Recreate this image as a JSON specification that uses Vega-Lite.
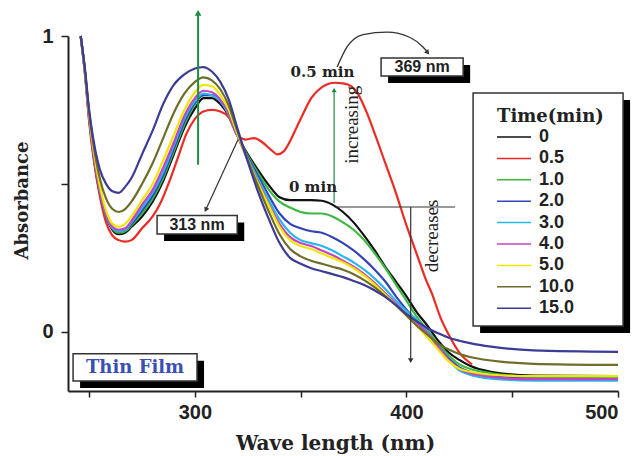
{
"$schema":"https://vega.github.io/schema/vega-lite/v6.json",
"width":550,"height":355,
"autosize":{"type":"none"},
"padding":{"left":68,"top":36,"right":22,"bottom":65},
"background":"white",
"config":{"view":{"stroke":null},"axis":{"grid":false}},
"datasets":{
"spectra":[
{"t":"0","w":246,"a":1},{"t":"0","w":248,"a":0.88},{"t":"0","w":250,"a":0.72},{"t":"0","w":252,"a":0.6},{"t":"0","w":255,"a":0.47},{"t":"0","w":258,"a":0.39},{"t":"0","w":261,"a":0.345},{"t":"0","w":264,"a":0.33},{"t":"0","w":267,"a":0.335},{"t":"0","w":270,"a":0.355},{"t":"0","w":275,"a":0.39},{"t":"0","w":280,"a":0.44},{"t":"0","w":285,"a":0.51},{"t":"0","w":290,"a":0.6},{"t":"0","w":295,"a":0.69},{"t":"0","w":300,"a":0.755},{"t":"0","w":304,"a":0.79},{"t":"0","w":308,"a":0.79},{"t":"0","w":312,"a":0.77},{"t":"0","w":316,"a":0.73},{"t":"0","w":320,"a":0.665},{"t":"0","w":325,"a":0.6},{"t":"0","w":330,"a":0.545},{"t":"0","w":335,"a":0.495},{"t":"0","w":340,"a":0.455},{"t":"0","w":345,"a":0.445},{"t":"0","w":350,"a":0.445},{"t":"0","w":355,"a":0.445},{"t":"0","w":360,"a":0.443},{"t":"0","w":365,"a":0.43},{"t":"0","w":370,"a":0.405},{"t":"0","w":375,"a":0.37},{"t":"0","w":380,"a":0.325},{"t":"0","w":385,"a":0.275},{"t":"0","w":390,"a":0.22},{"t":"0","w":395,"a":0.17},{"t":"0","w":400,"a":0.12},{"t":"0","w":405,"a":0.065},{"t":"0","w":410,"a":0.02},{"t":"0","w":415,"a":-0.03},{"t":"0","w":420,"a":-0.07},{"t":"0","w":425,"a":-0.095},{"t":"0","w":430,"a":-0.115},{"t":"0","w":440,"a":-0.135},{"t":"0","w":460,"a":-0.148},{"t":"0","w":500,"a":-0.15},
{"t":"0.5","w":246,"a":1},{"t":"0.5","w":248,"a":0.87},{"t":"0.5","w":250,"a":0.71},{"t":"0.5","w":252,"a":0.59},{"t":"0.5","w":255,"a":0.46},{"t":"0.5","w":258,"a":0.37},{"t":"0.5","w":261,"a":0.325},{"t":"0.5","w":264,"a":0.31},{"t":"0.5","w":267,"a":0.305},{"t":"0.5","w":270,"a":0.31},{"t":"0.5","w":275,"a":0.35},{"t":"0.5","w":280,"a":0.39},{"t":"0.5","w":284,"a":0.44},{"t":"0.5","w":288,"a":0.51},{"t":"0.5","w":292,"a":0.59},{"t":"0.5","w":296,"a":0.67},{"t":"0.5","w":300,"a":0.72},{"t":"0.5","w":304,"a":0.745},{"t":"0.5","w":308,"a":0.75},{"t":"0.5","w":312,"a":0.745},{"t":"0.5","w":316,"a":0.725},{"t":"0.5","w":320,"a":0.665},{"t":"0.5","w":324,"a":0.65},{"t":"0.5","w":328,"a":0.655},{"t":"0.5","w":332,"a":0.64},{"t":"0.5","w":336,"a":0.615},{"t":"0.5","w":339,"a":0.6},{"t":"0.5","w":342,"a":0.61},{"t":"0.5","w":345,"a":0.645},{"t":"0.5","w":348,"a":0.69},{"t":"0.5","w":351,"a":0.735},{"t":"0.5","w":355,"a":0.79},{"t":"0.5","w":358,"a":0.815},{"t":"0.5","w":362,"a":0.835},{"t":"0.5","w":366,"a":0.842},{"t":"0.5","w":370,"a":0.84},{"t":"0.5","w":374,"a":0.83},{"t":"0.5","w":377,"a":0.805},{"t":"0.5","w":381,"a":0.745},{"t":"0.5","w":385,"a":0.67},{"t":"0.5","w":390,"a":0.57},{"t":"0.5","w":395,"a":0.47},{"t":"0.5","w":400,"a":0.36},{"t":"0.5","w":403,"a":0.3},{"t":"0.5","w":406,"a":0.24},{"t":"0.5","w":409,"a":0.18},{"t":"0.5","w":412,"a":0.13},{"t":"0.5","w":416,"a":0.05},{"t":"0.5","w":420,"a":-0.01},{"t":"0.5","w":425,"a":-0.07},{"t":"0.5","w":431,"a":-0.11},
{"t":"1.0","w":246,"a":1},{"t":"1.0","w":248,"a":0.88},{"t":"1.0","w":250,"a":0.73},{"t":"1.0","w":252,"a":0.61},{"t":"1.0","w":255,"a":0.48},{"t":"1.0","w":258,"a":0.395},{"t":"1.0","w":261,"a":0.35},{"t":"1.0","w":264,"a":0.335},{"t":"1.0","w":267,"a":0.34},{"t":"1.0","w":270,"a":0.36},{"t":"1.0","w":275,"a":0.4},{"t":"1.0","w":280,"a":0.45},{"t":"1.0","w":285,"a":0.52},{"t":"1.0","w":290,"a":0.61},{"t":"1.0","w":295,"a":0.7},{"t":"1.0","w":300,"a":0.77},{"t":"1.0","w":304,"a":0.8},{"t":"1.0","w":308,"a":0.8},{"t":"1.0","w":312,"a":0.78},{"t":"1.0","w":316,"a":0.735},{"t":"1.0","w":320,"a":0.665},{"t":"1.0","w":325,"a":0.595},{"t":"1.0","w":330,"a":0.535},{"t":"1.0","w":335,"a":0.48},{"t":"1.0","w":340,"a":0.44},{"t":"1.0","w":345,"a":0.42},{"t":"1.0","w":350,"a":0.405},{"t":"1.0","w":355,"a":0.4},{"t":"1.0","w":360,"a":0.4},{"t":"1.0","w":365,"a":0.39},{"t":"1.0","w":370,"a":0.37},{"t":"1.0","w":375,"a":0.345},{"t":"1.0","w":380,"a":0.31},{"t":"1.0","w":385,"a":0.265},{"t":"1.0","w":390,"a":0.215},{"t":"1.0","w":395,"a":0.16},{"t":"1.0","w":400,"a":0.105},{"t":"1.0","w":405,"a":0.05},{"t":"1.0","w":410,"a":0.005},{"t":"1.0","w":415,"a":-0.04},{"t":"1.0","w":420,"a":-0.08},{"t":"1.0","w":425,"a":-0.11},{"t":"1.0","w":430,"a":-0.125},{"t":"1.0","w":440,"a":-0.14},{"t":"1.0","w":460,"a":-0.152},{"t":"1.0","w":500,"a":-0.155},
{"t":"2.0","w":246,"a":1},{"t":"2.0","w":248,"a":0.88},{"t":"2.0","w":250,"a":0.73},{"t":"2.0","w":252,"a":0.61},{"t":"2.0","w":255,"a":0.48},{"t":"2.0","w":258,"a":0.395},{"t":"2.0","w":261,"a":0.35},{"t":"2.0","w":264,"a":0.34},{"t":"2.0","w":267,"a":0.345},{"t":"2.0","w":270,"a":0.365},{"t":"2.0","w":275,"a":0.41},{"t":"2.0","w":280,"a":0.46},{"t":"2.0","w":285,"a":0.53},{"t":"2.0","w":290,"a":0.62},{"t":"2.0","w":295,"a":0.71},{"t":"2.0","w":300,"a":0.775},{"t":"2.0","w":304,"a":0.8},{"t":"2.0","w":308,"a":0.8},{"t":"2.0","w":312,"a":0.78},{"t":"2.0","w":316,"a":0.735},{"t":"2.0","w":320,"a":0.665},{"t":"2.0","w":325,"a":0.59},{"t":"2.0","w":330,"a":0.525},{"t":"2.0","w":335,"a":0.46},{"t":"2.0","w":340,"a":0.4},{"t":"2.0","w":345,"a":0.365},{"t":"2.0","w":350,"a":0.35},{"t":"2.0","w":355,"a":0.34},{"t":"2.0","w":360,"a":0.335},{"t":"2.0","w":365,"a":0.32},{"t":"2.0","w":370,"a":0.3},{"t":"2.0","w":375,"a":0.275},{"t":"2.0","w":380,"a":0.245},{"t":"2.0","w":385,"a":0.21},{"t":"2.0","w":390,"a":0.17},{"t":"2.0","w":395,"a":0.12},{"t":"2.0","w":400,"a":0.075},{"t":"2.0","w":405,"a":0.035},{"t":"2.0","w":410,"a":-0.005},{"t":"2.0","w":415,"a":-0.05},{"t":"2.0","w":420,"a":-0.09},{"t":"2.0","w":425,"a":-0.12},{"t":"2.0","w":430,"a":-0.135},{"t":"2.0","w":440,"a":-0.15},{"t":"2.0","w":460,"a":-0.158},{"t":"2.0","w":500,"a":-0.16},
{"t":"3.0","w":246,"a":1},{"t":"3.0","w":248,"a":0.88},{"t":"3.0","w":250,"a":0.73},{"t":"3.0","w":252,"a":0.61},{"t":"3.0","w":255,"a":0.48},{"t":"3.0","w":258,"a":0.395},{"t":"3.0","w":261,"a":0.35},{"t":"3.0","w":264,"a":0.34},{"t":"3.0","w":267,"a":0.345},{"t":"3.0","w":270,"a":0.37},{"t":"3.0","w":275,"a":0.42},{"t":"3.0","w":280,"a":0.47},{"t":"3.0","w":285,"a":0.54},{"t":"3.0","w":290,"a":0.63},{"t":"3.0","w":295,"a":0.72},{"t":"3.0","w":300,"a":0.78},{"t":"3.0","w":304,"a":0.805},{"t":"3.0","w":308,"a":0.8},{"t":"3.0","w":312,"a":0.78},{"t":"3.0","w":316,"a":0.735},{"t":"3.0","w":320,"a":0.665},{"t":"3.0","w":325,"a":0.585},{"t":"3.0","w":330,"a":0.515},{"t":"3.0","w":335,"a":0.445},{"t":"3.0","w":340,"a":0.38},{"t":"3.0","w":345,"a":0.335},{"t":"3.0","w":350,"a":0.31},{"t":"3.0","w":355,"a":0.3},{"t":"3.0","w":360,"a":0.29},{"t":"3.0","w":365,"a":0.275},{"t":"3.0","w":370,"a":0.255},{"t":"3.0","w":375,"a":0.235},{"t":"3.0","w":380,"a":0.21},{"t":"3.0","w":385,"a":0.18},{"t":"3.0","w":390,"a":0.145},{"t":"3.0","w":395,"a":0.105},{"t":"3.0","w":400,"a":0.07},{"t":"3.0","w":405,"a":0.04},{"t":"3.0","w":410,"a":0},{"t":"3.0","w":415,"a":-0.05},{"t":"3.0","w":420,"a":-0.095},{"t":"3.0","w":425,"a":-0.13},{"t":"3.0","w":430,"a":-0.145},{"t":"3.0","w":440,"a":-0.158},{"t":"3.0","w":460,"a":-0.165},{"t":"3.0","w":500,"a":-0.165},
{"t":"4.0","w":246,"a":1},{"t":"4.0","w":248,"a":0.88},{"t":"4.0","w":250,"a":0.73},{"t":"4.0","w":252,"a":0.61},{"t":"4.0","w":255,"a":0.485},{"t":"4.0","w":258,"a":0.4},{"t":"4.0","w":261,"a":0.355},{"t":"4.0","w":264,"a":0.345},{"t":"4.0","w":267,"a":0.35},{"t":"4.0","w":270,"a":0.375},{"t":"4.0","w":275,"a":0.43},{"t":"4.0","w":280,"a":0.48},{"t":"4.0","w":285,"a":0.555},{"t":"4.0","w":290,"a":0.64},{"t":"4.0","w":295,"a":0.73},{"t":"4.0","w":300,"a":0.79},{"t":"4.0","w":304,"a":0.815},{"t":"4.0","w":308,"a":0.81},{"t":"4.0","w":312,"a":0.785},{"t":"4.0","w":316,"a":0.74},{"t":"4.0","w":320,"a":0.665},{"t":"4.0","w":325,"a":0.58},{"t":"4.0","w":330,"a":0.505},{"t":"4.0","w":335,"a":0.43},{"t":"4.0","w":340,"a":0.365},{"t":"4.0","w":345,"a":0.32},{"t":"4.0","w":350,"a":0.3},{"t":"4.0","w":355,"a":0.29},{"t":"4.0","w":360,"a":0.275},{"t":"4.0","w":365,"a":0.26},{"t":"4.0","w":370,"a":0.24},{"t":"4.0","w":375,"a":0.22},{"t":"4.0","w":380,"a":0.195},{"t":"4.0","w":385,"a":0.165},{"t":"4.0","w":390,"a":0.13},{"t":"4.0","w":395,"a":0.095},{"t":"4.0","w":400,"a":0.06},{"t":"4.0","w":405,"a":0.03},{"t":"4.0","w":410,"a":-0.005},{"t":"4.0","w":415,"a":-0.05},{"t":"4.0","w":420,"a":-0.095},{"t":"4.0","w":425,"a":-0.125},{"t":"4.0","w":430,"a":-0.14},{"t":"4.0","w":440,"a":-0.152},{"t":"4.0","w":460,"a":-0.16},{"t":"4.0","w":500,"a":-0.16},
{"t":"5.0","w":246,"a":1},{"t":"5.0","w":248,"a":0.88},{"t":"5.0","w":250,"a":0.735},{"t":"5.0","w":252,"a":0.62},{"t":"5.0","w":255,"a":0.495},{"t":"5.0","w":258,"a":0.41},{"t":"5.0","w":261,"a":0.365},{"t":"5.0","w":264,"a":0.355},{"t":"5.0","w":267,"a":0.365},{"t":"5.0","w":270,"a":0.39},{"t":"5.0","w":275,"a":0.445},{"t":"5.0","w":280,"a":0.5},{"t":"5.0","w":285,"a":0.58},{"t":"5.0","w":290,"a":0.665},{"t":"5.0","w":295,"a":0.75},{"t":"5.0","w":300,"a":0.81},{"t":"5.0","w":304,"a":0.835},{"t":"5.0","w":308,"a":0.83},{"t":"5.0","w":312,"a":0.8},{"t":"5.0","w":316,"a":0.75},{"t":"5.0","w":320,"a":0.67},{"t":"5.0","w":325,"a":0.58},{"t":"5.0","w":330,"a":0.5},{"t":"5.0","w":335,"a":0.425},{"t":"5.0","w":340,"a":0.355},{"t":"5.0","w":345,"a":0.31},{"t":"5.0","w":350,"a":0.29},{"t":"5.0","w":355,"a":0.28},{"t":"5.0","w":360,"a":0.265},{"t":"5.0","w":365,"a":0.25},{"t":"5.0","w":370,"a":0.235},{"t":"5.0","w":375,"a":0.215},{"t":"5.0","w":380,"a":0.19},{"t":"5.0","w":385,"a":0.16},{"t":"5.0","w":390,"a":0.125},{"t":"5.0","w":395,"a":0.09},{"t":"5.0","w":400,"a":0.055},{"t":"5.0","w":405,"a":0.02},{"t":"5.0","w":410,"a":-0.02},{"t":"5.0","w":415,"a":-0.06},{"t":"5.0","w":420,"a":-0.1},{"t":"5.0","w":425,"a":-0.125},{"t":"5.0","w":430,"a":-0.135},{"t":"5.0","w":440,"a":-0.145},{"t":"5.0","w":460,"a":-0.15},{"t":"5.0","w":500,"a":-0.15},
{"t":"10.0","w":246,"a":1},{"t":"10.0","w":248,"a":0.885},{"t":"10.0","w":250,"a":0.74},{"t":"10.0","w":252,"a":0.635},{"t":"10.0","w":255,"a":0.52},{"t":"10.0","w":258,"a":0.45},{"t":"10.0","w":261,"a":0.415},{"t":"10.0","w":264,"a":0.405},{"t":"10.0","w":267,"a":0.415},{"t":"10.0","w":270,"a":0.44},{"t":"10.0","w":275,"a":0.5},{"t":"10.0","w":280,"a":0.57},{"t":"10.0","w":285,"a":0.655},{"t":"10.0","w":290,"a":0.74},{"t":"10.0","w":295,"a":0.805},{"t":"10.0","w":300,"a":0.845},{"t":"10.0","w":304,"a":0.86},{"t":"10.0","w":308,"a":0.85},{"t":"10.0","w":312,"a":0.82},{"t":"10.0","w":316,"a":0.765},{"t":"10.0","w":320,"a":0.68},{"t":"10.0","w":325,"a":0.58},{"t":"10.0","w":330,"a":0.49},{"t":"10.0","w":335,"a":0.405},{"t":"10.0","w":340,"a":0.33},{"t":"10.0","w":345,"a":0.28},{"t":"10.0","w":350,"a":0.255},{"t":"10.0","w":355,"a":0.24},{"t":"10.0","w":360,"a":0.23},{"t":"10.0","w":365,"a":0.22},{"t":"10.0","w":370,"a":0.21},{"t":"10.0","w":375,"a":0.195},{"t":"10.0","w":380,"a":0.175},{"t":"10.0","w":385,"a":0.15},{"t":"10.0","w":390,"a":0.12},{"t":"10.0","w":395,"a":0.09},{"t":"10.0","w":400,"a":0.055},{"t":"10.0","w":405,"a":0.02},{"t":"10.0","w":410,"a":-0.01},{"t":"10.0","w":415,"a":-0.04},{"t":"10.0","w":420,"a":-0.06},{"t":"10.0","w":425,"a":-0.075},{"t":"10.0","w":430,"a":-0.085},{"t":"10.0","w":440,"a":-0.097},{"t":"10.0","w":460,"a":-0.108},{"t":"10.0","w":500,"a":-0.112},
{"t":"15.0","w":246,"a":1},{"t":"15.0","w":248,"a":0.89},{"t":"15.0","w":250,"a":0.75},{"t":"15.0","w":252,"a":0.65},{"t":"15.0","w":255,"a":0.55},{"t":"15.0","w":258,"a":0.5},{"t":"15.0","w":261,"a":0.475},{"t":"15.0","w":264,"a":0.47},{"t":"15.0","w":267,"a":0.49},{"t":"15.0","w":270,"a":0.52},{"t":"15.0","w":275,"a":0.6},{"t":"15.0","w":280,"a":0.68},{"t":"15.0","w":285,"a":0.77},{"t":"15.0","w":290,"a":0.835},{"t":"15.0","w":295,"a":0.87},{"t":"15.0","w":300,"a":0.89},{"t":"15.0","w":304,"a":0.895},{"t":"15.0","w":308,"a":0.88},{"t":"15.0","w":312,"a":0.845},{"t":"15.0","w":316,"a":0.785},{"t":"15.0","w":320,"a":0.69},{"t":"15.0","w":325,"a":0.575},{"t":"15.0","w":330,"a":0.47},{"t":"15.0","w":335,"a":0.38},{"t":"15.0","w":340,"a":0.3},{"t":"15.0","w":345,"a":0.25},{"t":"15.0","w":350,"a":0.23},{"t":"15.0","w":355,"a":0.215},{"t":"15.0","w":360,"a":0.205},{"t":"15.0","w":365,"a":0.195},{"t":"15.0","w":370,"a":0.185},{"t":"15.0","w":375,"a":0.172},{"t":"15.0","w":380,"a":0.158},{"t":"15.0","w":385,"a":0.14},{"t":"15.0","w":390,"a":0.118},{"t":"15.0","w":395,"a":0.09},{"t":"15.0","w":400,"a":0.06},{"t":"15.0","w":405,"a":0.035},{"t":"15.0","w":410,"a":0.012},{"t":"15.0","w":415,"a":-0.005},{"t":"15.0","w":420,"a":-0.02},{"t":"15.0","w":425,"a":-0.03},{"t":"15.0","w":430,"a":-0.038},{"t":"15.0","w":440,"a":-0.05},{"t":"15.0","w":460,"a":-0.063},{"t":"15.0","w":500,"a":-0.068}
],
"segs":[
{"id":"gL","x1":301.5,"y1":0.565,"x2":301.5,"y2":1.075},
{"id":"gR","x1":365.8,"y1":0.435,"x2":365.8,"y2":0.815},
{"id":"h","x1":366,"y1":0.422,"x2":423,"y2":0.422},
{"id":"v","x1":402,"y1":0.422,"x2":402,"y2":-0.095},
{"id":"d","x1":320.4,"y1":0.65,"x2":305.3,"y2":0.415},
{"id":"c","x1":407.8,"y1":0.963,"x2":409.8,"y2":0.946}
],
"arc":[
{"o":1,"x":367.2,"y":0.895},{"o":2,"x":371.9,"y":0.963},{"o":3,"x":379.5,"y":1.005},{"o":4,"x":390.8,"y":1.013},{"o":5,"x":401.7,"y":0.995},{"o":6,"x":407.8,"y":0.963},{"o":7,"x":410.2,"y":0.943}
],
"boxes":[
{"id":"leg","x1":431.5,"x2":502.4,"y1":0.807,"y2":0.02},
{"id":"b369","x1":388.0,"x2":426.8,"y1":0.926,"y2":0.865},
{"id":"b313","x1":282.1,"x2":320.0,"y1":0.393,"y2":0.331},
{"id":"thin","x1":242.4,"x2":301.0,"y1":-0.074,"y2":-0.166}
],
"labels":[
{"id":"m05","x":360.3,"y":0.878,"txt":"0.5 min"},
{"id":"m0","x":355.8,"y":0.488,"txt":"0 min"},
{"id":"n369","x":407.4,"y":0.895,"txt":"369 nm"},
{"id":"n313","x":301.0,"y":0.362,"txt":"313 nm"},
{"id":"thin","x":271.7,"y":-0.122,"txt":"Thin Film"},
{"id":"inc","x":374.3,"y":0.70,"txt":"increasing"},
{"id":"dec","x":412.1,"y":0.324,"txt":"decreases"}
]
},
"layer":[
{"data":{"name":"spectra"},
 "mark":{"type":"line","strokeWidth":2.2,"interpolate":"monotone"},
 "encoding":{
  "x":{"field":"w","type":"quantitative","scale":{"domain":[240,500],"nice":false,"zero":false},
   "axis":{"title":"Wave length (nm)","values":[250,300,350,400,450,500],"format":"d","labelExpr":"datum.value % 100 === 0 ? datum.label : ''","domainColor":"#222","domainWidth":2,"tickColor":"#222","tickWidth":1.5,"tickSize":6,"labelFont":"Liberation Sans","labelFontWeight":"bold","labelFontSize":20,"labelColor":"#222","labelPadding":5,"titleFont":"DejaVu Serif","titleFontSize":20,"titleFontWeight":"bold","titleColor":"#222","titleX":267,"titleY":52,"titleBaseline":"middle","titleAlign":"center"}},
  "y":{"field":"a","type":"quantitative","scale":{"domain":[-0.2,1],"nice":false,"zero":false},
   "axis":{"title":"Absorbance","values":[0,0.5,1],"format":".0f","labelExpr":"datum.value === 0.5 ? '' : datum.label","domainColor":"#222","domainWidth":2,"tickColor":"#222","tickWidth":1.5,"tickSize":7,"labelFont":"Liberation Sans","labelFontWeight":"bold","labelFontSize":20,"labelColor":"#222","labelPadding":8,"titleFont":"DejaVu Serif","titleFontSize":18,"titleFontWeight":"bold","titleColor":"#222","titleX":-46,"titleY":164,"titleAngle":270,"titleBaseline":"middle","titleAlign":"center"}},
  "color":{"field":"t","type":"nominal",
   "scale":{"domain":["0","0.5","1.0","2.0","3.0","4.0","5.0","10.0","15.0"],"range":["#111111","#ee2a24","#3cb843","#3344bb","#29b6e8","#c443c4","#f2e600","#6e6e2a","#3c3c96"]},
   "legend":{"title":"Time(min)","orient":"none","legendX":429,"legendY":72,"direction":"vertical","symbolType":"stroke","symbolSize":2304,"symbolStrokeWidth":1.5,"symbolOffset":-15,"labelOffset":7,"clipHeight":18,"rowPadding":3.4,"titlePadding":2,"padding":0,"titleFont":"DejaVu Serif","titleFontSize":18,"titleFontWeight":"bold","titleColor":"#222","labelFont":"Liberation Sans","labelFontSize":18,"labelFontWeight":"bold","labelColor":"#222"}}
 }},
{"data":{"name":"segs"},"transform":[{"filter":"datum.id === 'gL'"}],
 "mark":{"type":"rule","color":"#1e8c45","strokeWidth":2},
 "encoding":{"x":{"field":"x1","type":"quantitative"},"y":{"field":"y1","type":"quantitative"},"x2":{"field":"x2"},"y2":{"field":"y2"}}},
{"data":{"name":"segs"},"transform":[{"filter":"datum.id === 'gR'"}],
 "mark":{"type":"rule","color":"#1e8c45","strokeWidth":1.2},
 "encoding":{"x":{"field":"x1","type":"quantitative"},"y":{"field":"y1","type":"quantitative"},"x2":{"field":"x2"},"y2":{"field":"y2"}}},
{"data":{"name":"segs"},"transform":[{"filter":"datum.id === 'h' || datum.id === 'v' || datum.id === 'd'"}],
 "mark":{"type":"rule","color":"#333333","strokeWidth":1.2},
 "encoding":{"x":{"field":"x1","type":"quantitative"},"y":{"field":"y1","type":"quantitative"},"x2":{"field":"x2"},"y2":{"field":"y2"}}},
{"data":{"name":"arc"},
 "mark":{"type":"line","color":"#333333","strokeWidth":1.3,"interpolate":"monotone"},
 "encoding":{"x":{"field":"x","type":"quantitative"},"y":{"field":"y","type":"quantitative"},"order":{"field":"o"}}},
{"data":{"name":"segs"},"transform":[{"filter":"datum.id === 'gL'"}],
 "mark":{"type":"point","shape":"triangle","filled":true,"color":"#1e8c45","size":45,"angle":0,"opacity":1},
 "encoding":{"x":{"field":"x2","type":"quantitative"},"y":{"field":"y2","type":"quantitative"}}},
{"data":{"name":"segs"},"transform":[{"filter":"datum.id === 'gR'"}],
 "mark":{"type":"point","shape":"triangle","filled":true,"color":"#1e8c45","size":25,"angle":0,"opacity":1},
 "encoding":{"x":{"field":"x2","type":"quantitative"},"y":{"field":"y2","type":"quantitative"}}},
{"data":{"name":"segs"},"transform":[{"filter":"datum.id === 'v'"}],
 "mark":{"type":"point","shape":"triangle","filled":true,"color":"#333333","size":30,"angle":180,"opacity":1},
 "encoding":{"x":{"field":"x2","type":"quantitative"},"y":{"field":"y2","type":"quantitative"}}},
{"data":{"name":"segs"},"transform":[{"filter":"datum.id === 'd'"}],
 "mark":{"type":"point","shape":"triangle","filled":true,"color":"#333333","size":30,"angle":205,"opacity":1},
 "encoding":{"x":{"field":"x2","type":"quantitative"},"y":{"field":"y2","type":"quantitative"}}},
{"data":{"name":"segs"},"transform":[{"filter":"datum.id === 'c'"}],
 "mark":{"type":"point","shape":"triangle","filled":true,"color":"#333333","size":30,"angle":140,"opacity":1},
 "encoding":{"x":{"field":"x2","type":"quantitative"},"y":{"field":"y2","type":"quantitative"}}},
{"data":{"name":"boxes"},
 "mark":{"type":"rect","fill":"#000000","xOffset":7,"x2Offset":7,"yOffset":7,"y2Offset":7},
 "encoding":{"x":{"field":"x1","type":"quantitative"},"x2":{"field":"x2"},"y":{"field":"y1","type":"quantitative"},"y2":{"field":"y2"}}},
{"data":{"name":"boxes"},
 "mark":{"type":"rect","fill":"#ffffff","stroke":"#333333","strokeWidth":1.5},
 "encoding":{"x":{"field":"x1","type":"quantitative"},"x2":{"field":"x2"},"y":{"field":"y1","type":"quantitative"},"y2":{"field":"y2"}}},
{"data":{"name":"labels"},"transform":[{"filter":"datum.id === 'm05' || datum.id === 'm0'"}],
 "mark":{"type":"text","font":"DejaVu Serif","fontWeight":"bold","fontSize":15,"color":"#222222","align":"center","baseline":"middle"},
 "encoding":{"x":{"field":"x","type":"quantitative"},"y":{"field":"y","type":"quantitative"},"text":{"field":"txt"}}},
{"data":{"name":"labels"},"transform":[{"filter":"datum.id === 'n369' || datum.id === 'n313'"}],
 "mark":{"type":"text","font":"Liberation Sans","fontWeight":"bold","fontSize":16,"color":"#222222","align":"center","baseline":"middle"},
 "encoding":{"x":{"field":"x","type":"quantitative"},"y":{"field":"y","type":"quantitative"},"text":{"field":"txt"}}},
{"data":{"name":"labels"},"transform":[{"filter":"datum.id === 'thin'"}],
 "mark":{"type":"text","font":"DejaVu Serif","fontWeight":"bold","fontSize":18,"color":"#3a4fb0","align":"center","baseline":"middle"},
 "encoding":{"x":{"field":"x","type":"quantitative"},"y":{"field":"y","type":"quantitative"},"text":{"field":"txt"}}},
{"data":{"name":"labels"},"transform":[{"filter":"datum.id === 'inc' || datum.id === 'dec'"}],
 "mark":{"type":"text","font":"Liberation Serif","fontSize":19,"color":"#222222","align":"center","baseline":"middle","angle":270},
 "encoding":{"x":{"field":"x","type":"quantitative"},"y":{"field":"y","type":"quantitative"},"text":{"field":"txt"}}}
]
}
